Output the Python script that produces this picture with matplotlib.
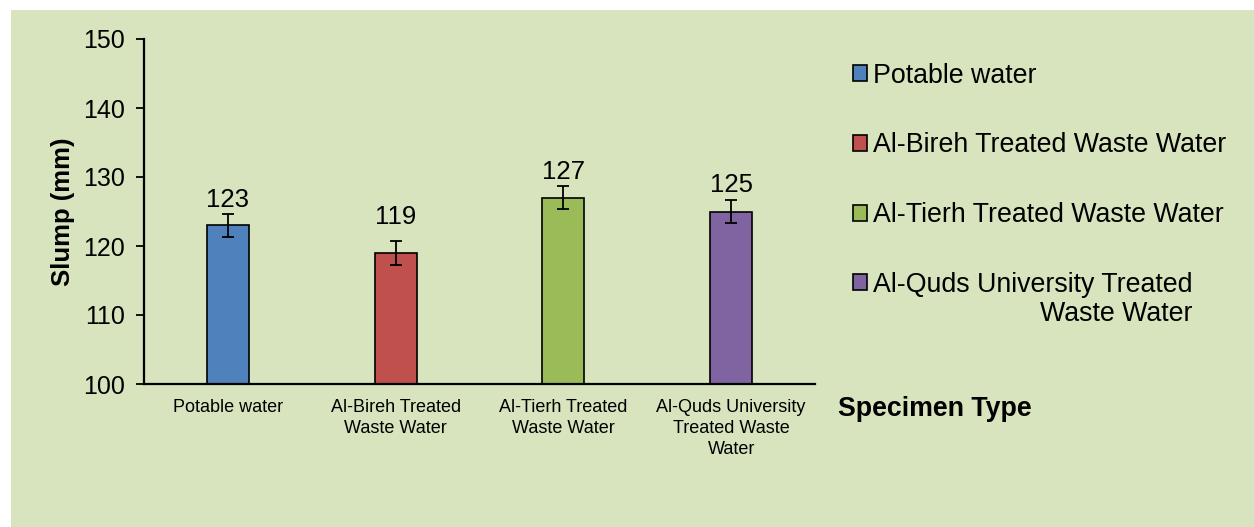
import matplotlib
matplotlib.use("Agg")
import matplotlib.pyplot as plt
from matplotlib.patches import Rectangle

plt.rcParams['font.family'] = ['Liberation Sans', 'DejaVu Sans']

# data
categories = ["Potable water", "Al-Bireh Treated\nWaste Water",
              "Al-Tierh Treated\nWaste Water", "Al-Quds University\nTreated Waste\nWater"]
legend_names = ["Potable water", "Al-Bireh Treated Waste Water",
                "Al-Tierh Treated Waste Water", "Al-Quds University Treated"]
legend_tail = "Waste Water"
slump = [123, 119, 127, 125]
errors = [1.7, 1.7, 1.7, 1.7]
colors = ["#4F81BD", "#C0504D", "#9BBB59", "#8064A2"]
bg = "#D7E4BD"
# label centre height above bar top, in points (the red one was dragged higher)
label_lift = [18.0, 26, 18.5, 18.8]

W, H = 1254, 527
fig = plt.figure(figsize=(W / 100, H / 100), dpi=100, facecolor="white")
fig.patches.append(Rectangle((11 / W, 0), 1 - 11 / W, 1 - 10 / H,
                             transform=fig.transFigure, facecolor=bg,
                             edgecolor="none", zorder=-10))

# axes: x 144..815, y 39..384 (pixels from top)
ax = fig.add_axes([144 / W, 1 - 384 / H, (815 - 144) / W, (384 - 39) / H])
ax.set_facecolor("none")

x = range(len(slump))
for i in x:
    ax.bar(i, slump[i] - 100, bottom=100, width=0.25, color=colors[i],
           edgecolor="black", linewidth=1.2, label=legend_names[i], zorder=2)
    ax.errorbar(i, slump[i], yerr=errors[i], fmt="none", ecolor="black",
                elinewidth=1.3, capsize=4, capthick=1.3, zorder=3)
    ax.annotate(str(slump[i]), (i, slump[i]), xytext=(0, label_lift[i]),
                textcoords="offset points", ha="center", va="center",
                fontsize=18.5)

ax.set_xlim(-0.5, 3.5)
ax.set_ylim(100, 150)
ax.set_yticks(range(100, 151, 10))
ax.tick_params(axis="y", labelsize=18, length=6, width=1.3, direction="out", pad=7.5)
ax.set_xticks(list(x))
ax.set_xticklabels(categories, fontsize=13, linespacing=1.3)
ax.tick_params(axis="x", length=0, pad=11)

for s in ["top", "right"]:
    ax.spines[s].set_visible(False)
for s in ["left", "bottom"]:
    ax.spines[s].set_linewidth(1.6)

ax.set_ylabel("Slump (mm)", fontsize=18.5, fontweight="bold", labelpad=6)

fig.text(838 / W, 1 - 409 / H, "Specimen Type", fontsize=19.3,
         fontweight="bold", va="center", ha="left")

leg = ax.legend(loc="upper left", bbox_to_anchor=(842 / W, 1 - 52 / H),
                bbox_transform=fig.transFigure, frameon=False, fontsize=19.3,
                handlelength=0.55, handleheight=0.55, handletextpad=0.2,
                labelspacing=1.63, borderaxespad=0)

# second line of the last legend entry, right-aligned under the first
fig.canvas.draw()
last = leg.get_texts()[-1]
bb = last.get_window_extent().transformed(fig.transFigure.inverted())
fig.text(bb.x1, bb.y0 - 3 / H, legend_tail, fontsize=19.3, ha="right", va="top")

fig.savefig("out.png", dpi=100, facecolor="white")
